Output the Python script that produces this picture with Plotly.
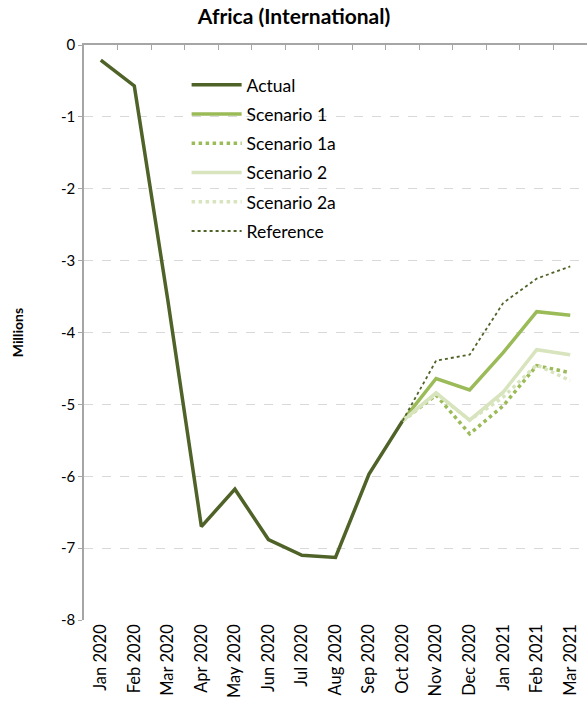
import plotly.graph_objects as go

months = ["Jan 2020", "Feb 2020", "Mar 2020", "Apr 2020", "May 2020", "Jun 2020",
          "Jul 2020", "Aug 2020", "Sep 2020", "Oct 2020", "Nov 2020", "Dec 2020",
          "Jan 2021", "Feb 2021", "Mar 2021"]

actual = [-0.21, -0.57, -3.55, -6.70, -6.18, -6.88, -7.10, -7.13, -5.97, -5.23,
          None, None, None, None, None]
scenario1 = [None] * 9 + [-5.23, -4.64, -4.80, -4.28, -3.71, -3.76]
scenario1a = [None] * 9 + [-5.23, -4.87, -5.41, -5.02, -4.46, -4.56]
scenario2 = [None] * 9 + [-5.23, -4.84, -5.22, -4.83, -4.24, -4.31]
scenario2a = [None] * 9 + [-5.23, -4.85, -5.22, -4.90, -4.45, -4.67]
reference = [None] * 9 + [-5.23, -4.39, -4.31, -3.59, -3.25, -3.08]

y_tick_vals = [0, -1, -2, -3, -4, -5, -6, -7, -8]
y_tick_text = ["0", "-1", "-2", "-3", "-4", "-5", "-6", "-7", "-8"]

DARK = "#4F6228"
MID = "#9BBB59"
LIGHT = "#D7E4BD"

fig = go.Figure()
series = [
    ("Actual", actual, DARK, 3.5, "solid"),
    ("Scenario 1", scenario1, MID, 3.5, "solid"),
    ("Scenario 1a", scenario1a, MID, 3.5, "dot"),
    ("Scenario 2", scenario2, LIGHT, 3.5, "solid"),
    ("Scenario 2a", scenario2a, LIGHT, 3.5, "dot"),
    ("Reference", reference, DARK, 1.8, "dot"),
]
for i, (name, vals, col, w, dash) in enumerate(series):
    fig.add_trace(go.Scatter(
        x=months, y=vals, name=name, mode="lines",
        line=dict(color=col, width=w, dash=dash),
        legendgroup=f"g{i}",
    ))

# invisible trace for top axis line
fig.add_trace(go.Scatter(x=months, y=[None] * len(months), xaxis="x2",
                         showlegend=False, hoverinfo="skip"))

font_family = "Lato, 'Open Sans', sans-serif"

fig.update_layout(
    width=588, height=714,
    margin=dict(l=84, r=1, t=45, b=94, autoexpand=False),
    paper_bgcolor="white", plot_bgcolor="white",
    font=dict(family=font_family, size=15, color="#000000"),
    title=dict(text="<b>Africa (International)</b>", x=0.5, xanchor="center",
               y=0.987, yanchor="top", font=dict(size=21, family=font_family)),
    showlegend=True,
    legend=dict(x=0.204, y=0.962, xanchor="left", yanchor="top",
                bgcolor="rgba(0,0,0,0)", font=dict(size=17.5, family=font_family),
                traceorder="grouped", tracegroupgap=3.5, itemwidth=50),
    xaxis=dict(type="category", categoryorder="array", categoryarray=months,
               tickangle=-90, showline=False, ticks="", showgrid=False,
               zeroline=False, tickfont=dict(size=16.5), range=[-0.5, 14.5],
               automargin=False),
    xaxis2=dict(type="category", categoryorder="array", categoryarray=months,
                overlaying="x", side="top", matches="x", showline=True,
                linecolor="#A6A6A6", linewidth=1.5, ticks="inside",
                tickson="boundaries", ticklen=5, tickcolor="#A6A6A6",
                showticklabels=False, showgrid=False, zeroline=False),
    yaxis=dict(range=[-8, 0], tickvals=y_tick_vals, ticktext=y_tick_text,
               showline=True, linecolor="#A6A6A6", linewidth=1.5,
               ticks="outside", ticklen=4, tickcolor="#A6A6A6",
               showgrid=True, gridcolor="#D9D9D9", griddash="dash", gridwidth=1,
               zeroline=False, tickfont=dict(size=15), automargin=False,
               title=dict(text="<b>Millions</b>", font=dict(size=14), standoff=34)),
)

fig.write_html("out.html", config={"displayModeBar": False},
               post_script="document.body.style.margin='0';")
